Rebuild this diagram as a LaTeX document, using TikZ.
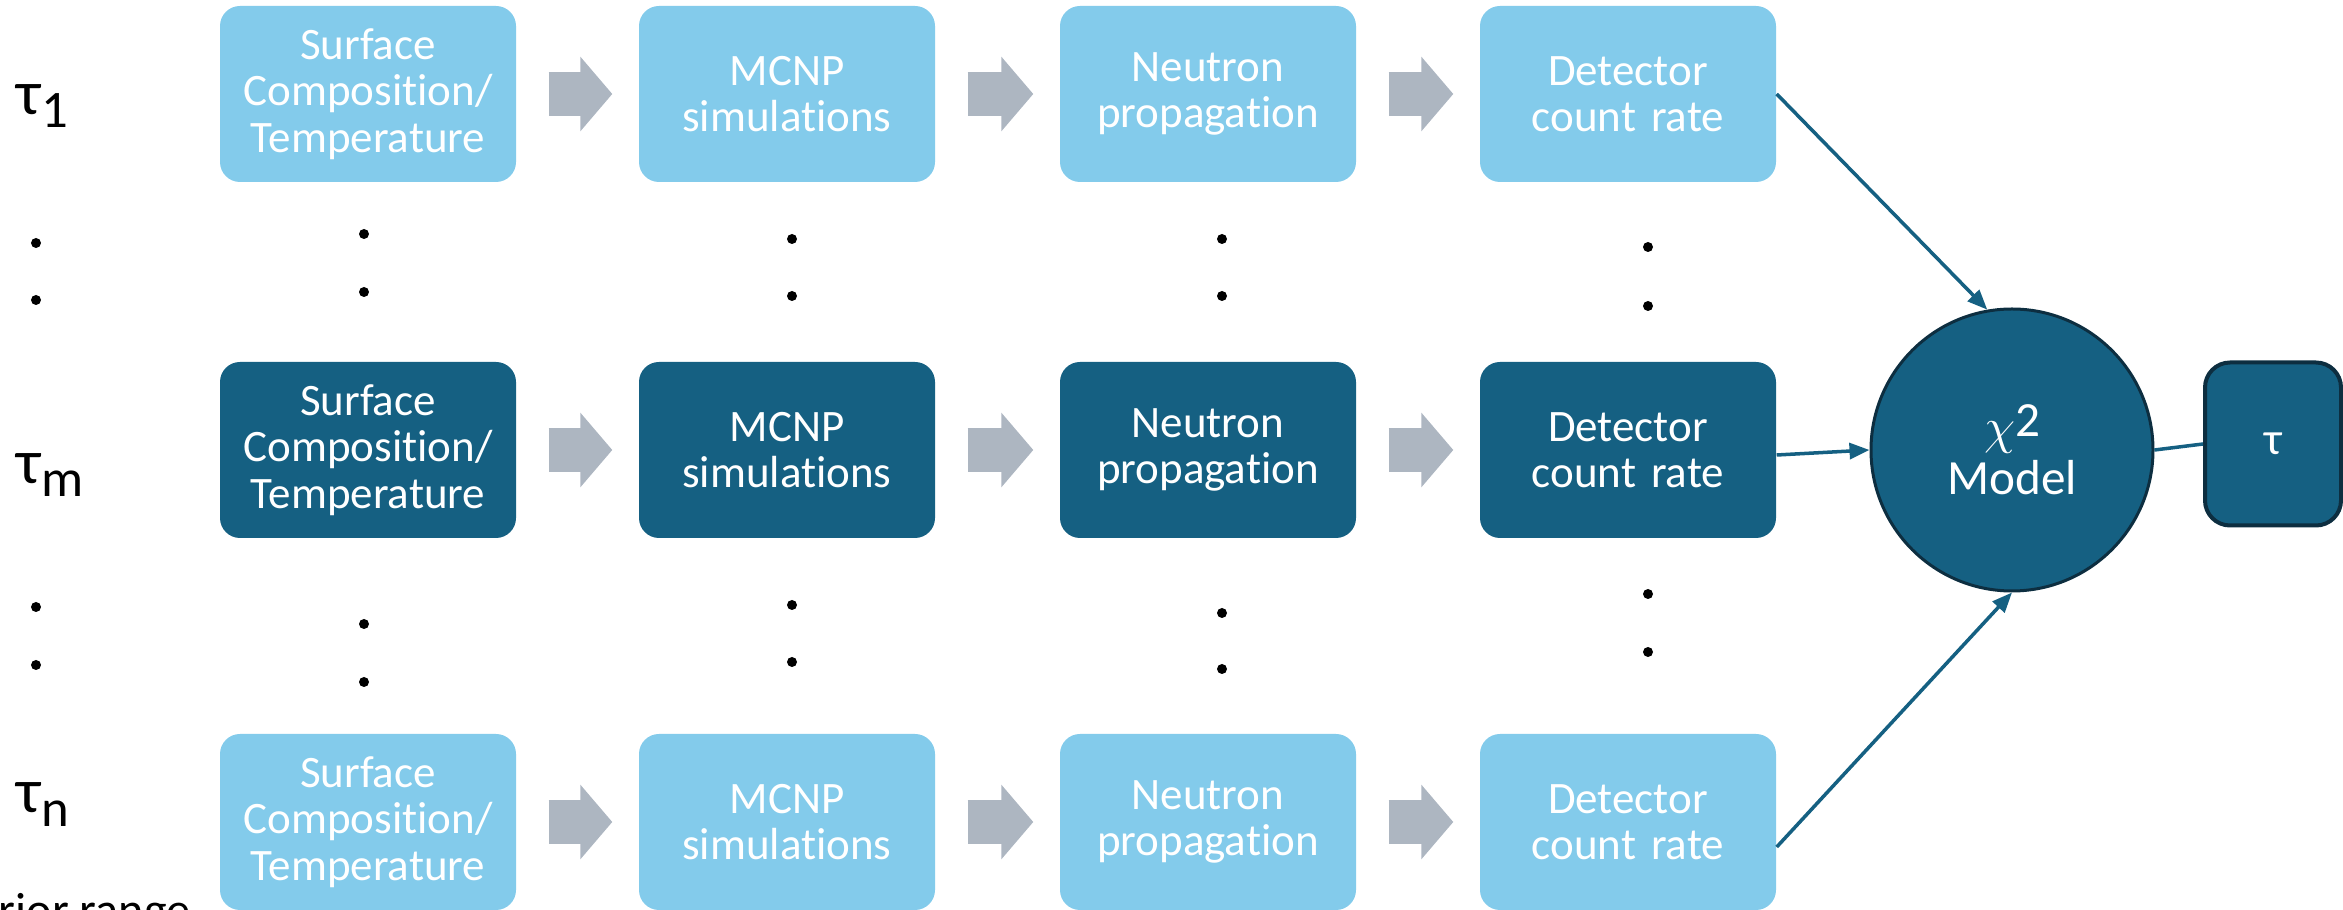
\documentclass[tikz,border=0pt]{standalone}
\usepackage{fontspec}
\setmainfont{Carlito}[Ligatures=CommonOff]
\usetikzlibrary{arrows.meta}
\definecolor{stagelight}{HTML}{83CBEB}
\definecolor{stagedark}{HTML}{156082}
\definecolor{rimdark}{HTML}{0D2E40}
\definecolor{flowgray}{HTML}{ADB6C1}
\begin{document}
\begin{tikzpicture}[
  stage/.style={rounded corners=0.2cm,minimum width=2.96cm,minimum height=1.76cm,
    text width=2.9cm,align=center,inner sep=0pt,text=white,
    font=\fontsize{12.8}{13.2}\selectfont},
  flow/.style={flowgray,line width=0.44cm,shorten <=0.32cm,shorten >=0.26cm,
    -{Triangle[length=0.32cm,width=0.73cm]}},
  link/.style={stagedark,line width=1pt,-{Triangle[length=0.2cm,width=0.16cm]}},
  taulab/.style={anchor=base west,inner sep=0pt,font=\fontsize{18}{18}\selectfont}]
\useasboundingbox (0,-9.1) rectangle (23.43,0);
\clip (0,-9.1) rectangle (23.43,0);
\foreach \r/\y/\c in {1/-0.94/stagelight,m/-4.50/stagedark,n/-8.22/stagelight}{
  \node[stage,fill=\c] (sc\r) at (3.68,\y) {Surface\\Composition/\\Temperature};
  \node[stage,fill=\c] (mc\r) at (7.87,\y) {MCNP\\simulations};
  \node[stage,fill=\c] (np\r) at (12.08,\y) {Neutron\\propagation};
  \node[stage,fill=\c] (dc\r) at (16.28,\y) {Detector\\count rate};
  \foreach \a/\b in {sc/mc,mc/np,np/dc} \draw[flow] (\a\r.east) -- (\b\r.west);
}
\foreach \x/\y in {0.36/2.43,0.36/3.00,0.36/6.07,0.36/6.65,
  3.64/2.34,3.64/2.92,3.64/6.24,3.64/6.82,
  7.92/2.39,7.92/2.96,7.92/6.05,7.92/6.62,
  12.22/2.39,12.22/2.96,12.22/6.13,12.22/6.69,
  16.48/2.47,16.48/3.06,16.48/5.94,16.48/6.52}
  \fill (\x,-\y) circle (0.05);
\node[taulab] (t1) at (0.16,-1.15) {τ\raisebox{-0.13cm}{\fontsize{15}{15}\selectfont 1}};
\node[taulab] (tm) at (0.16,-4.84) {τ\raisebox{-0.13cm}{\fontsize{15}{15}\selectfont m}};
\node[taulab] (tn) at (0.16,-8.13) {τ\raisebox{-0.14cm}{\fontsize{15}{15}\selectfont n}};
\node[circle,fill=stagedark,draw=rimdark,line width=0.03cm,minimum size=2.82cm,inner sep=0pt,
  text=white,align=center,font=\fontsize{14}{14.6}\selectfont] (chi) at (20.12,-4.50)
  {$\chi$\raisebox{2pt}{2}\\Model};
\node[rounded corners=0.25cm,fill=stagedark,draw=rimdark,line width=0.04cm,minimum width=1.36cm,
  minimum height=1.63cm,inner sep=0pt,text=white,font=\fontsize{13}{13}\selectfont]
  (tauout) at (22.73,-4.44) {τ};
\draw[link] (dc1.east) -- (chi.100);
\draw[link] ([yshift=-0.05cm]dcm.east) -- (chi.west);
\draw[link] ([yshift=-0.25cm]dcn.east) -- (chi.south);
\draw[stagedark,line width=1pt] (chi.east) -- (tauout.west);
\node[anchor=base west,inner sep=0pt,font=\fontsize{13.7}{13.7}\selectfont] (prior)
  at (-0.27,-9.27) {prior range};
\end{tikzpicture}
\end{document}
